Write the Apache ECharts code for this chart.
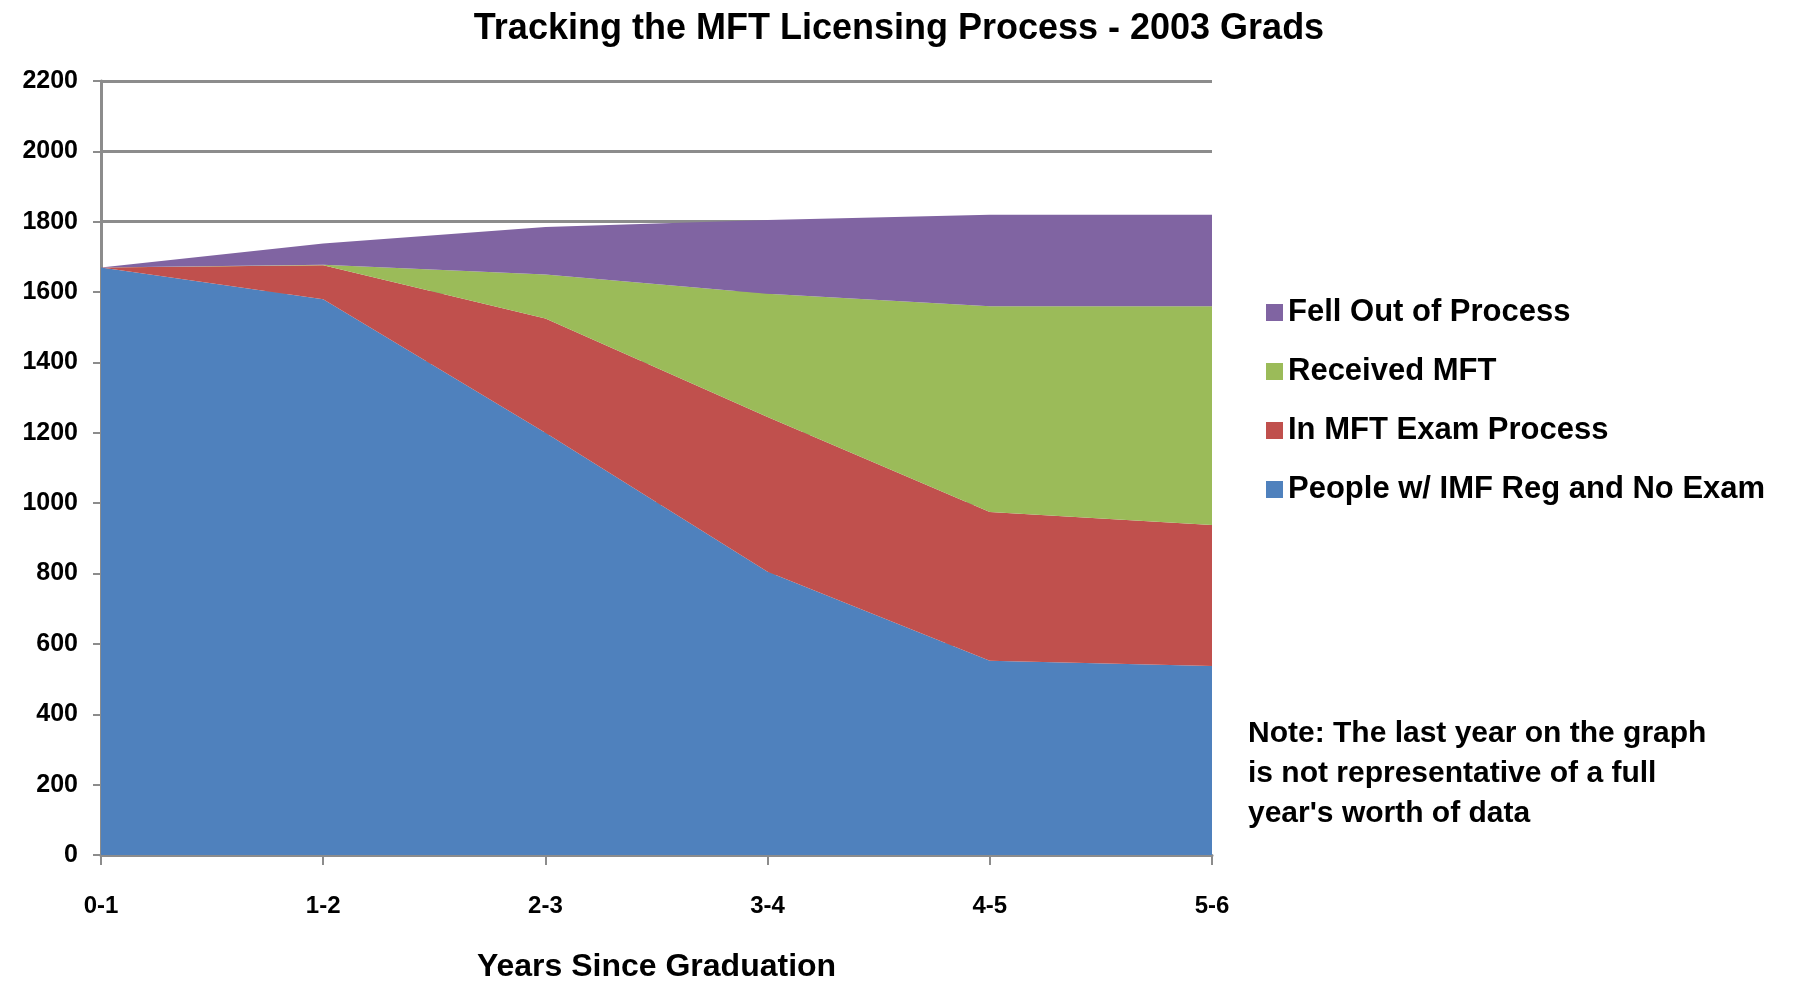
<!DOCTYPE html>
<html>
<head>
<meta charset="utf-8">
<title>Tracking the MFT Licensing Process - 2003 Grads</title>
<script src="https://cdn.jsdelivr.net/npm/echarts@6/dist/echarts.min.js"></script>
<style>
  html, body { margin: 0; padding: 0; background: #fff; }
  #chart { width: 1798px; height: 981px; }
</style>
</head>
<body>
<div id="chart"></div>
<script>
// data
let years = ['0-1', '1-2', '2-3', '3-4', '4-5', '5-6'];
let noExam = [1670, 1580, 1200, 805, 552, 537];
let inExam = [0, 96, 325, 440, 423, 401];
let received = [0, 2, 125, 350, 585, 622];
let fellOut = [0, 60, 135, 210, 260, 260];

let font = 'Arial, "Liberation Sans", sans-serif';

function areaSeries(name, data, color) {
  return {
    name: name,
    type: 'line',
    stack: 'total',
    data: data,
    symbol: 'none',
    lineStyle: { width: 0 },
    areaStyle: { color: color, opacity: 1 },
    itemStyle: { color: color },
    emphasis: { disabled: true }
  };
}

let chartDom = document.getElementById('chart');
let myChart = echarts.init(chartDom);
let option;

option = {
  animation: false,
  title: {
    text: 'Tracking the MFT Licensing Process - 2003 Grads',
    left: 'center',
    top: 6,
    textStyle: { fontFamily: font, fontWeight: 'bold', fontSize: 36, color: '#000' }
  },
  legend: {
    orient: 'vertical',
    left: 1261,
    top: 292,
    itemWidth: 17,
    itemHeight: 17,
    itemGap: 28,
    icon: 'rect',
    data: ['Fell Out of Process', 'Received MFT', 'In MFT Exam Process', 'People w/ IMF Reg and No Exam'],
    textStyle: { fontFamily: font, fontWeight: 'bold', fontSize: 31, color: '#000', padding: [0, 0, 0, 0] }
  },
  grid: {
    left: 101,
    right: 586,
    top: 81,
    bottom: 126,
    outerBoundsMode: 'none'
  },
  xAxis: {
    type: 'category',
    data: years,
    boundaryGap: false,
    name: 'Years Since Graduation',
    nameLocation: 'middle',
    nameGap: 96,
    nameTextStyle: { fontFamily: font, fontWeight: 'bold', fontSize: 32, color: '#000' },
    axisLine: { lineStyle: { color: '#8c8c8c', width: 3 } },
    axisTick: { show: true, length: 10, lineStyle: { color: '#8c8c8c', width: 2 } },
    axisLabel: { margin: 39, fontFamily: font, fontWeight: 'bold', fontSize: 24, color: '#000' },
    splitLine: { show: false }
  },
  yAxis: {
    type: 'value',
    min: 0,
    max: 2200,
    interval: 200,
    axisLine: { show: true, lineStyle: { color: '#8c8c8c', width: 3 } },
    axisTick: { show: true, length: 8, lineStyle: { color: '#8c8c8c', width: 2 } },
    axisLabel: {
      margin: 23,
      fontFamily: font,
      fontWeight: 'bold',
      fontSize: 25,
      color: '#000',
      formatter: function (v) { return String(v); }
    },
    splitLine: { lineStyle: { color: '#8c8c8c', width: 3 } }
  },
  graphic: [
    {
      type: 'text',
      left: 1248,
      top: 714,
      style: {
        text: 'Note: The last year on the graph\nis not representative of a full\nyear\'s worth of data',
        font: 'bold 30px ' + font,
        lineHeight: 40,
        fill: '#000'
      }
    }
  ],
  series: [
    areaSeries('People w/ IMF Reg and No Exam', noExam, '#4F81BD'),
    areaSeries('In MFT Exam Process', inExam, '#C0504D'),
    areaSeries('Received MFT', received, '#9BBB59'),
    areaSeries('Fell Out of Process', fellOut, '#8064A2')
  ]
};

option && myChart.setOption(option);
</script>
</body>
</html>
